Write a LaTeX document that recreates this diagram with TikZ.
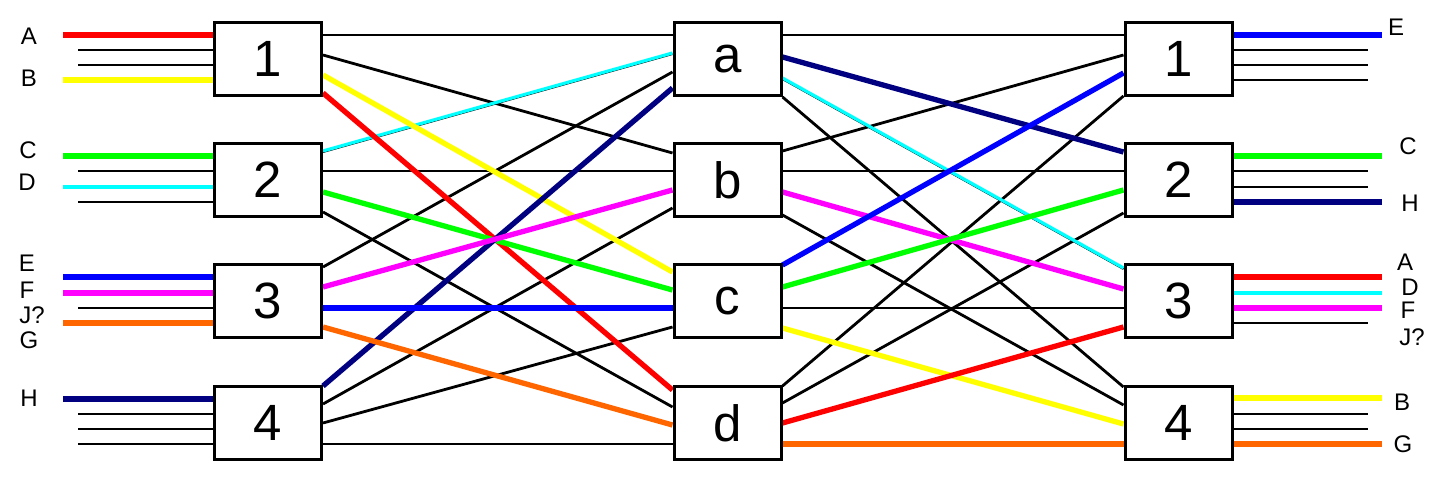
\documentclass[tikz,border=0pt]{standalone}
\usepackage{fontspec}
\setmainfont{Liberation Sans}
\usetikzlibrary{backgrounds}
\definecolor{cRed}{RGB}{255,0,0}
\definecolor{cYel}{RGB}{255,255,0}
\definecolor{cGrn}{RGB}{0,255,0}
\definecolor{cCya}{RGB}{0,255,255}
\definecolor{cBlu}{RGB}{0,0,255}
\definecolor{cMag}{RGB}{255,0,255}
\definecolor{cOra}{RGB}{255,102,0}
\definecolor{cNav}{RGB}{0,0,128}
\begin{document}
\begin{tikzpicture}[x=1pt,y=-1pt,
  box/.style={draw, line width=3pt, fill=white, minimum width=107pt, minimum height=73pt, inner sep=0pt, font=\fontsize{51}{51}\selectfont},
  lab/.style={font=\fontsize{24}{24}\selectfont, inner sep=0pt},
  blk/.style={line width=2.8pt, black},
  col/.style={line width=5.3pt, #1},
  cy/.style={line width=3.2pt, cCya},
  cyb/.style={line width=2pt, black, transform canvas={yshift=-1pt}}]
\useasboundingbox (0,0) rectangle (1444,481);
% boxes
\node[box] (L1) at (268,59) {1};
\node[box] (L2) at (268,180) {2};
\node[box] (L3) at (268,301) {3};
\node[box] (L4) at (268,423) {4};
\node[box] (Ma) at (727.5,59) {a};
\node[box] (Mb) at (727.5,180) {b};
\node[box] (Mc) at (727.5,301) {c};
\node[box] (Md) at (727.5,423) {d};
\node[box] (R1) at (1178.5,59) {1};
\node[box] (R2) at (1178.5,180) {2};
\node[box] (R3) at (1178.5,301) {3};
\node[box] (R4) at (1178.5,423) {4};
% labels left
\node[lab] (lA) at (29,36) {A};
\node[lab] (lB) at (29,78) {B};
\node[lab] (lC) at (28,150) {C};
\node[lab] (lD) at (27,182) {D};
\node[lab] (lE) at (27,263) {E};
\node[lab] (lF) at (27,290) {F};
\node[lab] (lJ) at (32,315) {J?};
\node[lab] (lG) at (29,340) {G};
\node[lab] (lH) at (29,398) {H};
% labels right
\node[lab] (rE) at (1396,27) {E};
\node[lab] (rC) at (1408,146) {C};
\node[lab] (rH) at (1410,203) {H};
\node[lab] (rA) at (1405,262) {A};
\node[lab] (rD) at (1410,287) {D};
\node[lab] (rF) at (1408,310) {F};
\node[lab] (rJ) at (1412,337) {J?};
\node[lab] (rB) at (1402,402) {B};
\node[lab] (rG) at (1403,444) {G};
% free ends
\foreach \n/\x/\y in {a1/63/35,a2/78/50,a3/78/65,a4/63/80,
  b1/63/156,b2/78/171,b3/63/187,b4/78/202,
  c1/63/277,c2/63/293,c3/78/308,c4/63/323,
  d1/63/399,d2/78/414,d3/78/429,d4/78/444,
  e1/1382/35,e2/1368/50,e3/1368/65,e4/1368/80,
  f1/1382/156,f2/1368/171,f3/1368/187,f4/1382/202,
  g1/1382/277,g2/1382/293,g3/1382/308,g4/1368/323,
  h1/1382/398,h2/1368/414,h3/1368/429,h4/1382/444}
  \coordinate (\n) at (\x,\y);
\begin{scope}[on background layer]
% left stubs
\draw[col=cRed] (a1) -- (L1.west |- a1);
\draw[blk] (a2) -- (L1.west |- a2);
\draw[blk] (a3) -- (L1.west |- a3);
\draw[col=cYel] (a4) -- (L1.west |- a4);
\draw[col=cGrn] (b1) -- (L2.west |- b1);
\draw[blk] (b2) -- (L2.west |- b2);
\draw[line width=2pt, black] (78,188.5) -- (L2.west |- 0,188.5);
\draw[cy] (b3) -- (L2.west |- b3);
\draw[blk] (b4) -- (L2.west |- b4);
\draw[col=cBlu] (c1) -- (L3.west |- c1);
\draw[col=cMag] (c2) -- (L3.west |- c2);
\draw[blk] (c3) -- (L3.west |- c3);
\draw[col=cOra] (c4) -- (L3.west |- c4);
\draw[col=cNav] (d1) -- (L4.west |- d1);
\draw[blk] (d2) -- (L4.west |- d2);
\draw[blk] (d3) -- (L4.west |- d3);
\draw[blk] (d4) -- (L4.west |- d4);
% right stubs
\draw[col=cBlu] (R1.east |- e1) -- (e1);
\draw[blk] (R1.east |- e2) -- (e2);
\draw[blk] (R1.east |- e3) -- (e3);
\draw[blk] (R1.east |- e4) -- (e4);
\draw[col=cGrn] (R2.east |- f1) -- (f1);
\draw[blk] (R2.east |- f2) -- (f2);
\draw[blk] (R2.east |- f3) -- (f3);
\draw[col=cNav] (R2.east |- f4) -- (f4);
\draw[col=cRed] (R3.east |- g1) -- (g1);
\draw[line width=3.8pt, cCya] (R3.east |- g2) -- (g2);
\draw[col=cMag] (R3.east |- g3) -- (g3);
\draw[blk] (R3.east |- g4) -- (g4);
\draw[col=cYel] (R4.east |- h1) -- (h1);
\draw[blk] (R4.east |- h2) -- (h2);
\draw[blk] (R4.east |- h3) -- (h3);
\draw[col=cOra] (R4.east |- h4) -- (h4);
% left -> middle, black
\draw[blk] (L1.east |- 0,35) -- (Ma.west |- 0,35);
\draw[blk] (L1.east |- 0,55) -- (Mb.west |- 0,153);
\draw[blk] (L2.east |- 0,171) -- (Mb.west |- 0,171);
\draw[blk] (L2.east |- 0,212) -- (Md.west |- 0,407);
\draw[blk] (L3.east |- 0,267) -- (Ma.west |- 0,72);
\draw[blk] (L4.east |- 0,404) -- (Mb.west |- 0,208);
\draw[blk] (L4.east |- 0,423) -- (Mc.west |- 0,327);
\draw[blk] (L4.east |- 0,444) -- (Md.west |- 0,444);
% middle -> right, black
\draw[blk] (Ma.east |- 0,35) -- (R1.west |- 0,35);
\draw[blk] (Ma.east |- 0,97) -- (R4.west |- 0,387);
\draw[blk] (Mb.east |- 0,151) -- (R1.west |- 0,55);
\draw[blk] (Mb.east |- 0,171) -- (R2.west |- 0,171);
\draw[blk] (Mb.east |- 0,215) -- (R4.west |- 0,405);
\draw[blk] (Mc.east |- 0,308) -- (R3.west |- 0,308);
\draw[blk] (Md.east |- 0,386) -- (R1.west |- 0,96);
\draw[blk] (Md.east |- 0,403) -- (R2.west |- 0,213);
% cyan
\draw[cyb] (L2.east |- 0,151) -- (Ma.west |- 0,53);
\draw[cy] (L2.east |- 0,151) -- (Ma.west |- 0,53);
\draw[cyb] (Ma.east |- 0,78) -- (R3.west |- 0,268);
\draw[cy] (Ma.east |- 0,78) -- (R3.west |- 0,268);
% left -> middle, coloured
\draw[col=cYel] (L1.east |- 0,75) -- (Mc.west |- 0,272);
\draw[col=cRed] (L1.east |- 0,93) -- (Md.west |- 0,390);
\draw[col=cGrn] (L2.east |- 0,192) -- (Mc.west |- 0,290);
\draw[col=cNav] (L4.east |- 0,386) -- (Ma.west |- 0,88);
\draw[col=cMag] (L3.east |- 0,287) -- (Mb.west |- 0,190);
\draw[col=cBlu] (L3.east |- 0,308) -- (Mc.west |- 0,308);
\draw[col=cOra] (L3.east |- 0,327) -- (Md.west |- 0,425);
% middle -> right, coloured
\draw[col=cNav] (Ma.east |- 0,57) -- (R2.west |- 0,152);
\draw[col=cMag] (Mb.east |- 0,192) -- (R3.west |- 0,289);
\draw[col=cBlu] (Mc.east |- 0,265) -- (R1.west |- 0,73);
\draw[col=cGrn] (Mc.east |- 0,287) -- (R2.west |- 0,190);
\draw[col=cYel] (Mc.east |- 0,328) -- (R4.west |- 0,424);
\draw[col=cRed] (Md.east |- 0,423) -- (R3.west |- 0,327);
\draw[col=cOra] (Md.east |- 0,444) -- (R4.west |- 0,444);
\end{scope}
\end{tikzpicture}
\end{document}
